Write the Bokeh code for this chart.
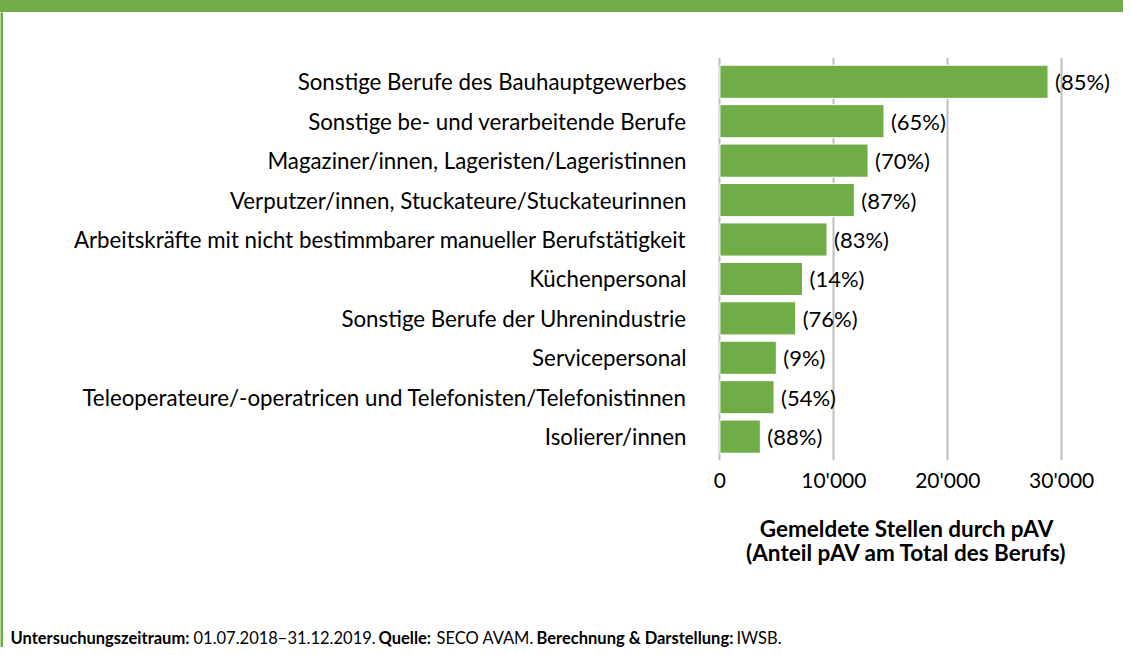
from bokeh.plotting import figure
from bokeh.layouts import column, row
from bokeh.models import Range1d, FixedTicker, Div
from bokeh.embed import file_html
from bokeh.resources import INLINE
from bokeh.core.properties import value

# ---------------- data ----------------
categories = [
    "Sonstige Berufe des Bauhauptgewerbes",
    "Sonstige be- und verarbeitende Berufe",
    "Magaziner/innen, Lageristen/Lageristinnen",
    "Verputzer/innen, Stuckateure/Stuckateurinnen",
    "Arbeitskräfte mit nicht bestimmbarer manueller Berufstätigkeit",
    "Küchenpersonal",
    "Sonstige Berufe der Uhrenindustrie",
    "Servicepersonal",
    "Teleoperateure/-operatricen und Telefonisten/Telefonistinnen",
    "Isolierer/innen",
]
stellen = [28800, 14400, 13000, 11800, 9400, 7250, 6650, 4950, 4750, 3550]
anteil = [85, 65, 70, 87, 83, 14, 76, 9, 54, 88]
tick_values = [0, 10000, 20000, 30000]
tick_labels = ["0", "10'000", "20'000", "30'000"]
axis_title = ["Gemeldete Stellen durch pAV", "(Anteil pAV am Total des Berufs)"]
footer_texts = ["Untersuchungszeitraum:", "01.07.2018–31.12.2019.", "Quelle:",
                "SECO AVAM.", "Berechnung & Darstellung:", "IWSB."]
footer_bold = [True, False, True, False, True, False]

# ---------------- layout (pixel positions) ----------------
GREEN = "#70AD47"
FONT = "Lato"
LEFT, RIGHT = 3, 1123          # content area right of the green strip
TOP_BAND = 12                  # bottom of the green header band
MAIN_BOTTOM = 505
BOTTOM = 647
FRAME_L, FRAME_T, FRAME_B = 716, 57, 460
x0, x1 = -300, 35424
y_top, y_bot = -0.616, 9.605

header = Div(text="", width=RIGHT, height=TOP_BAND,
             styles={"background-color": GREEN, "margin": "0", "padding": "0"})

strip = figure(width=LEFT, height=BOTTOM - TOP_BAND, output_backend="svg",
               toolbar_location=None, x_axis_type=None, y_axis_type=None, min_border=0)
strip.outline_line_color = None
strip.background_fill_color = GREEN
strip.border_fill_color = GREEN
strip.grid.visible = False

# ---------------- main chart ----------------
main_w = RIGHT - LEFT
p = figure(width=main_w, height=MAIN_BOTTOM - TOP_BAND, output_backend="svg",
           toolbar_location=None,
           x_range=Range1d(x0, x1), y_range=Range1d(y_bot, y_top),
           min_border_left=FRAME_L - LEFT, min_border_right=0,
           min_border_top=FRAME_T - TOP_BAND, min_border_bottom=MAIN_BOTTOM - FRAME_B)
p.outline_line_color = None

idx = list(range(len(categories)))
p.hbar(y=idx, right=stellen, left=0, height=0.84, fill_color=GREEN,
       line_color="white", line_width=1)
p.text(x=stellen, y=idx, text=["(%d%%)" % a for a in anteil], x_offset=7,
       text_baseline="middle", text_align="left", text_font=value(FONT),
       text_font_size="22px", text_color="#000000")

p.ygrid.visible = False
p.xgrid.ticker = FixedTicker(ticks=tick_values)
p.xgrid.grid_line_color = "#BFBFBF"
p.xgrid.grid_line_width = 2

p.yaxis.ticker = FixedTicker(ticks=idx)
p.yaxis.major_label_overrides = {i: c for i, c in zip(idx, categories)}
p.yaxis.axis_line_color = None
p.yaxis.major_tick_line_color = None
p.yaxis.minor_tick_line_color = None
p.yaxis.major_tick_out = 0
p.yaxis.major_label_standoff = 30
p.yaxis.major_label_text_font = FONT
p.yaxis.major_label_text_font_size = "22.3px"
p.yaxis.major_label_text_color = "#000000"

p.xaxis.ticker = FixedTicker(ticks=tick_values)
p.xaxis.major_label_overrides = {v: l for v, l in zip(tick_values, tick_labels)}
p.xaxis.axis_line_color = None
p.xaxis.major_tick_line_color = None
p.xaxis.minor_tick_line_color = None
p.xaxis.major_tick_out = 0
p.xaxis.major_label_standoff = 6
p.xaxis.major_label_text_font = FONT
p.xaxis.major_label_text_font_size = "21px"
p.xaxis.major_label_text_color = "#000000"

# ---------------- lower panel: axis title + source line ----------------
foot = figure(width=main_w, height=BOTTOM - MAIN_BOTTOM, output_backend="svg",
              toolbar_location=None, x_axis_type=None, y_axis_type=None, min_border=0,
              x_range=Range1d(LEFT, RIGHT), y_range=Range1d(BOTTOM, MAIN_BOTTOM))
foot.outline_line_color = None
foot.grid.visible = False
for f in (p, foot):
    try:
        f.frame_align = False
    except Exception:
        pass

foot.text(x=[906, 906], y=[528, 552], text=axis_title, text_align="center",
          text_baseline="middle", text_font=value(FONT), text_font_style="bold",
          text_font_size="22.5px", text_color="#000000")

foot_x = [10, 193, 378, 436, 536, 736]
for txt, bold, fx in zip(footer_texts, footer_bold, foot_x):
    foot.text(x=[fx], y=[637], text=[txt], text_align="left", text_baseline="middle",
              text_font=value(FONT), text_font_style="bold" if bold else "normal",
              text_font_size="16.5px", text_color="#000000")

layout = column(header, row(strip, column(p, foot)))
open("out.html", "w").write(file_html(layout, INLINE))
